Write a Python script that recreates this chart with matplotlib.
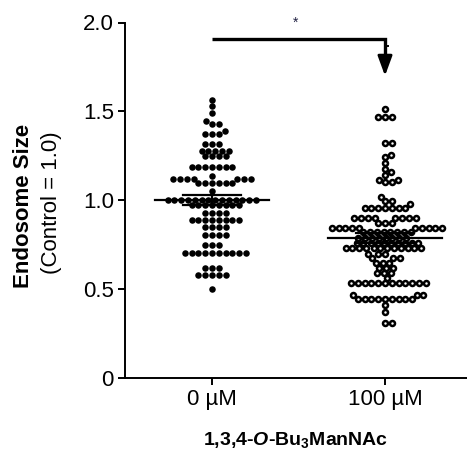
import matplotlib
matplotlib.use("Agg")
import matplotlib.pyplot as plt
import numpy as np

plt.rcParams["font.family"] = ["Liberation Sans", "DejaVu Sans"]
plt.rcParams["mathtext.fontset"] = "custom"
plt.rcParams["mathtext.rm"] = "Liberation Sans:bold"
plt.rcParams["mathtext.it"] = "Liberation Sans:bold:italic"
plt.rcParams["mathtext.bf"] = "Liberation Sans:bold"

# values (fold change vs control)
groups = ["0 \u00b5M", "100 \u00b5M"]
ctrl_vals = (
    [1.566, 1.532, 1.491, 1.445, 1.43, 1.43, 1.39, 1.375, 1.375, 1.375]
    + [1.316] * 3 + [1.275] * 5 + [1.247] * 4 + [1.186] * 7 + [1.138]
    + [1.118] * 7 + [1.095] * 6 + [1.054] + [1.003] * 14 + [0.975] * 8
    + [0.928] * 4 + [0.89] * 8 + [0.85] * 4 + [0.806] * 4 + [0.749] * 3
    + [0.702] * 10 + [0.62] * 3 + [0.58] * 5 + [0.50]
)
treat_vals = (
    [1.515] + [1.467] * 3 + [1.322] * 2 + [1.256, 1.245, 1.21, 1.177, 1.16, 1.144]
    + [1.115] * 2 + [1.10] * 2 + [1.02] + [0.993] * 2 + [0.98] + [0.956] * 7
    + [0.90] * 8 + [0.873] * 3 + [0.845] * 10 + [0.82] * 8 + [0.79] * 8
    + [0.759] * 10 + [0.73] * 12 + [0.70] * 3 + [0.675] * 3 + [0.648] * 3
    + [0.62] * 3 + [0.59] * 3 + [0.563] + [0.533] * 12 + [0.467] * 3
    + [0.443] * 9 + [0.41, 0.374] + [0.308] * 2
)
means = [1.003, 0.787]
sems = [0.028, 0.028]
sig_y = 1.908
arrow_base = 1.80
arrow_tip = 1.70


def swarm_offsets(values, d=6.8, h=5.6, xscale=173.0, yscale=177.5):
    # simple beeswarm in pixel space, elliptical collision
    ys = np.asarray(values) * yscale
    order = np.argsort(ys)
    placed = []
    off = np.zeros(len(ys))
    for i in order:
        y = ys[i]
        cands = [0.0]
        for px, py in placed:
            dy = y - py
            if abs(dy) < h:
                dx = d * np.sqrt(1 - (dy / h) ** 2)
                cands += [px + dx, px - dx]
        cands.sort(key=abs)
        for c in cands:
            ok = all(((c - px) / d) ** 2 + ((y - py) / h) ** 2 >= 1 - 1e-6 for px, py in placed)
            if ok:
                off[i] = c
                placed.append((c, y))
                break
    return off / xscale


fig = plt.figure(figsize=(4.67, 4.51), dpi=100)
ax = fig.add_axes([125 / 467, 73 / 451, 342 / 467, 355.5 / 451])

x0 = swarm_offsets(ctrl_vals)
x1 = 1 + swarm_offsets(treat_vals)
ax.scatter(x0, ctrl_vals, s=22, color="black", linewidths=0, zorder=2)
ax.scatter(x1, treat_vals, s=13, facecolor="white", edgecolor="black", linewidths=1.8, zorder=2)

for i, (m, s) in enumerate(zip(means, sems)):
    ax.plot([i - 0.33, i + 0.33], [m, m], color="black", lw=1.6, zorder=3)
    ax.plot([i, i], [m - s, m + s], color="black", lw=1.6, zorder=3)
    for yy in (m - s, m + s):
        ax.plot([i - 0.165, i + 0.165], [yy, yy], color="black", lw=1.6, zorder=3)

# significance bracket with arrow
ax.plot([0, 1, 1], [sig_y, sig_y, arrow_base], color="black", lw=2.4,
        solid_joinstyle="miter", solid_capstyle="butt", clip_on=False)
ax.annotate("", xy=(1, arrow_tip), xytext=(1, arrow_base + 0.01),
            arrowprops=dict(arrowstyle="-|>,head_length=0.6,head_width=0.22",
                            mutation_scale=20, lw=2.0, color="black",
                            shrinkA=0, shrinkB=0), annotation_clip=False)
ax.plot([1, 1.018], [1.865, 1.865], color="black", lw=1.4, clip_on=False)
ax.text(0.48, 2.0, "*", ha="center", va="center", fontsize=10, color="#222244", clip_on=False)

ax.set_xlim(-0.503, 1.474)
ax.set_ylim(0, 2.0)
ax.set_yticks([0, 0.5, 1.0, 1.5, 2.0])
ax.set_yticklabels(["0", "0.5", "1.0", "1.5", "2.0"])
ax.set_xticks([0, 1])
ax.set_xticklabels(groups)
ax.tick_params(labelsize=16, width=1.4, length=5, pad=3)
for side in ("top", "right"):
    ax.spines[side].set_visible(False)
for side in ("left", "bottom"):
    ax.spines[side].set_linewidth(1.4)

ax.set_xlabel("1,3,4-$O$-Bu$_3$ManNAc", fontsize=14, fontweight="bold")
ax.xaxis.set_label_coords(0.5, -0.145)

fig.text(24 / 467, 1 - 206 / 451, "Endosome Size", rotation=90, fontsize=16,
         fontweight="bold", ha="center", va="center")
fig.text(51 / 467, 1 - 203 / 451, "(Control = 1.0)", rotation=90, fontsize=16,
         ha="center", va="center")

fig.savefig("out.png", dpi=100)
